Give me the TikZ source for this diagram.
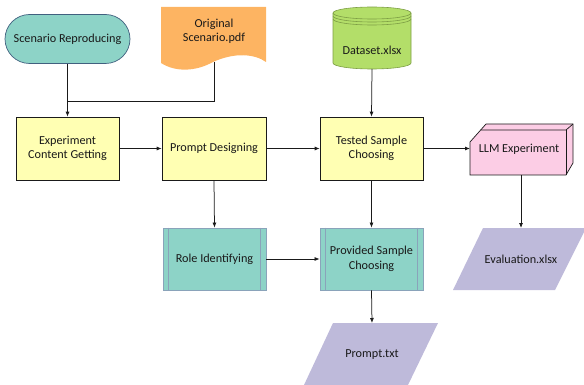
\documentclass[tikz,border=0pt]{standalone}
\usepackage{fontspec}
\setmainfont{Carlito}
\usetikzlibrary{arrows.meta}
\definecolor{cteal}{HTML}{8DD3C7}
\definecolor{cyellow}{HTML}{FFFFB3}
\definecolor{clav}{HTML}{BEBADA}
\definecolor{corange}{HTML}{FDB462}
\definecolor{cgreen}{HTML}{B3DE69}
\definecolor{cpink}{HTML}{FCCDE5}
\definecolor{cslate}{HTML}{41607F}
\definecolor{csteel}{HTML}{8AA3BA}
\definecolor{cgreenb}{HTML}{7E9F45}
\definecolor{cline}{HTML}{1A1A1A}
\tikzset{
  txt/.style={font=\fontsize{12.2}{14.5}\selectfont, align=center, text=black!90, inner sep=0pt},
  procbox/.style={txt, draw=cline, line width=0.7pt, fill=cyellow, minimum width=103pt, minimum height=63pt},
  predef/.style={txt, draw=csteel, line width=0.8pt, fill=cteal, minimum width=103pt, minimum height=62pt},
  arr/.style={draw=cline, line width=0.75pt, -{Latex[length=5pt,width=4pt]}},
  lin/.style={draw=cline, line width=0.75pt},
}
\begin{document}
\begin{tikzpicture}[x=1pt,y=-1pt]
\useasboundingbox (0,0) rectangle (584,385);
% Scenario Reproducing (terminator)
\node[txt, draw=cslate, line width=0.7pt, fill=cteal, minimum width=125pt, minimum height=49pt, rounded corners=24.5pt] (sr) at (67.5,39) {Scenario Reproducing};
% Original Scenario.pdf (document)
\fill[corange] (161,7) -- (266,7) -- (266,62) .. controls (255,54) and (235,52) .. (213,62) .. controls (195,72) and (175,72) .. (161,63) -- cycle;
\node[txt] (doc) at (214,31) {Original\\Scenario.pdf};
\coordinate (docb) at (214,62);
% Dataset.xlsx (cylinder)
\filldraw[fill=cgreen, draw=cgreenb, line width=0.6pt] (333,13) -- (333,63) arc[start angle=180, end angle=360, x radius=39pt, y radius=6pt] -- (411,13) arc[start angle=0, end angle=180, x radius=39pt, y radius=6pt] -- cycle;
\draw[draw=cgreenb, line width=0.6pt] (333,13) arc[start angle=180, end angle=360, x radius=39pt, y radius=6pt];
\draw[draw=cgreenb, line width=0.6pt] (333,16) arc[start angle=180, end angle=360, x radius=39pt, y radius=6pt];
\draw[draw=cgreenb, line width=0.6pt] (333,19) arc[start angle=180, end angle=360, x radius=39pt, y radius=6pt];
\node[txt] (ds) at (372,50) {Dataset.xlsx};
\coordinate (dsb) at (372,69);
% Row 1
\node[procbox] (ecg) at (67.5,148.5) {Experiment\\Content Getting};
\node[procbox, minimum width=104pt] (pd) at (214,148.5) {Prompt Designing};
\node[procbox] (tsc) at (371.5,148.5) {Tested Sample\\Choosing};
% LLM Experiment (3D box)
\filldraw[fill=cpink, draw=cline, line width=0.7pt] (470,142) -- (486,124) -- (573,124) -- (573,163) -- (566,175) -- (470,175) -- cycle;
\draw[cline, line width=0.7pt] (480.7,130) -- (566,130) -- (573,124);
\draw[cline, line width=0.7pt] (566,130) -- (566,175);
\node[txt] (llm) at (519,149) {LLM Experiment};
\coordinate (llml) at (470,148.5);
\coordinate (llmb) at (521,175);
% Row 2
\node[predef] (ri) at (214.5,259) {Role Identifying};
\node[predef] (psc) at (371.5,259) {Provided Sample\\Choosing};
\foreach \n in {ri,psc}{
  \draw[csteel, line width=0.8pt] ([xshift=6pt]\n.north west) -- ([xshift=6pt]\n.south west);
  \draw[csteel, line width=0.8pt] ([xshift=-6pt]\n.north east) -- ([xshift=-6pt]\n.south east);
}
% Evaluation.xlsx
\fill[clav] (483,228) -- (586,228) -- (555,290) -- (453,290) -- cycle;
\node[txt] (ev) at (521,259) {Evaluation.xlsx};
\coordinate (evt) at (521,228);
% Prompt.txt
\fill[clav] (333,323) -- (438,323) -- (408,385) -- (304,385) -- cycle;
\node[txt] (pt) at (372,355) {Prompt.txt};
\coordinate (ptt) at (372,323);
% Connectors
\coordinate (jn) at (67.5,101);
\draw[lin] (docb) |- (jn);
\draw[arr] (sr.south) -- (ecg.north);
\draw[arr] (dsb) -- (tsc.north);
\draw[arr] (ecg.east) -- (pd.west);
\draw[arr] (pd.east) -- (tsc.west);
\draw[arr] (tsc.east) -- (llml);
\draw[arr] (pd.south) -- (ri.north);
\draw[arr] (tsc.south) -- (psc.north);
\draw[arr] (ri.east) -- (psc.west);
\draw[arr] (psc.south) -- (ptt);
\draw[arr] (llmb) -- (evt);
\end{tikzpicture}
\end{document}
